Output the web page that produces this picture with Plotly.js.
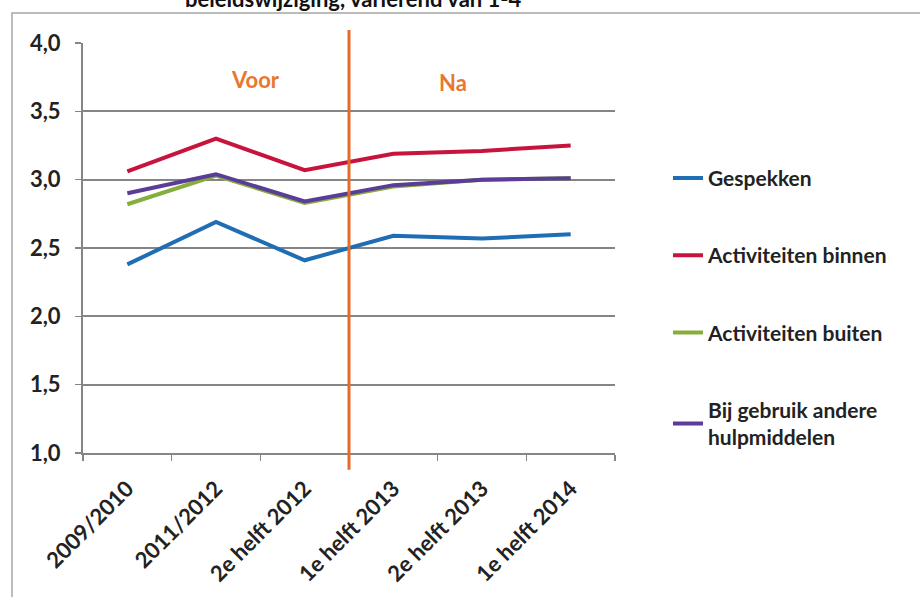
<!DOCTYPE html>
<html>
<head>
<meta charset="utf-8">
<script src="https://cdn.plot.ly/plotly-3.0.1.min.js"></script>
<style>
  html, body { margin: 0; padding: 0; background: #ffffff; }
  #chart { width: 920px; height: 597px; }
</style>
</head>
<body>
<div id="chart"></div>
<script>
// ---- data ----
const categories = ["2009/2010", "2011/2012", "2e helft 2012", "1e helft 2013", "2e helft 2013", "1e helft 2014"];
const gespekken = [2.38, 2.69, 2.41, 2.59, 2.57, 2.60];
const activiteitenBinnen = [3.06, 3.30, 3.07, 3.19, 3.21, 3.25];
const activiteitenBuiten = [2.82, 3.03, 2.83, 2.95, 3.00, 3.01];
const andereHulpmiddelen = [2.90, 3.04, 2.84, 2.96, 3.00, 3.01];
const seriesNames = ["Gespekken", "Activiteiten binnen", "Activiteiten buiten", "Bij gebruik andere<br>hulpmiddelen"];
const yTicks = [1.0, 1.5, 2.0, 2.5, 3.0, 3.5, 4.0];
const titleText = "beleidswijziging, variërend van 1-4";
const periodLabels = ["Voor", "Na"];

const FONT = "Lato, 'Open Sans', sans-serif";
const colors = ["#1F6DB3", "#C8143C", "#86AE3C", "#5B3C96"];
const seriesValues = [gespekken, activiteitenBinnen, activiteitenBuiten, andereHulpmiddelen];

const traces = seriesValues.map((vals, i) => ({
  type: "scatter",
  mode: "lines",
  x: categories,
  y: vals,
  name: seriesNames[i],
  legendgroup: "g" + i,
  line: { color: colors[i], width: 4 },
  hoverinfo: "skip"
}));

const layout = {
  width: 920,
  height: 597,
  margin: { l: 83, r: 305, t: 43, b: 144 },
  paper_bgcolor: "#ffffff",
  plot_bgcolor: "#ffffff",
  separators: ",.",
  font: { family: FONT, color: "#222222" },
  xaxis: {
    type: "category",
    range: [-0.5, 5.5],
    tickson: "boundaries",
    ticks: "outside",
    ticklen: 6,
    tickwidth: 1.5,
    tickcolor: "#858585",
    showgrid: false,
    showline: true,
    linecolor: "#858585",
    linewidth: 2,
    tickangle: -45,
    ticklabelstandoff: 12,
    tickfont: { family: FONT, size: 22, weight: "bold", color: "#222222" },
    fixedrange: true
  },
  yaxis: {
    range: [1, 4],
    tickvals: yTicks,
    tickformat: ".1f",
    ticks: "outside",
    ticklen: 6,
    tickwidth: 1.5,
    tickcolor: "#858585",
    showgrid: true,
    gridcolor: "#858585",
    gridwidth: 2,
    showline: true,
    linecolor: "#858585",
    linewidth: 2,
    zeroline: false,
    ticklabelstandoff: 10,
    tickfont: { family: FONT, size: 22, weight: "bold", color: "#222222" },
    fixedrange: true
  },
  showlegend: true,
  legend: {
    x: 1.0996,
    xanchor: "left",
    y: 0.72,
    yanchor: "top",
    traceorder: "grouped",
    tracegroupgap: 47,
    font: { family: FONT, size: 21, weight: "bold", color: "#222222" },
    bgcolor: "rgba(0,0,0,0)",
    borderwidth: 0
  },
  shapes: [
    {
      type: "rect", xref: "paper", yref: "paper",
      x0: -0.1335, x1: 1.6, y0: -0.4, y1: 1.073,
      line: { color: "#A6A6A6", width: 1.5 },
      fillcolor: "rgba(0,0,0,0)",
      layer: "below"
    },
    {
      type: "line", xref: "x", yref: "paper",
      x0: 2.5, x1: 2.5, y0: -0.041, y1: 1.032,
      line: { color: "#E46C2A", width: 3 },
      layer: "above"
    }
  ],
  annotations: [
    {
      text: titleText, xref: "paper", yref: "paper",
      x: 0.509, y: 1.0707, xanchor: "center", yanchor: "bottom",
      showarrow: false,
      font: { family: FONT, size: 22, weight: "bold", color: "#111111" }
    },
    {
      text: periodLabels[0], xref: "x", yref: "y",
      x: 1.45, y: 3.73, showarrow: false,
      font: { family: FONT, size: 22, weight: "bold", color: "#E8782F" }
    },
    {
      text: periodLabels[1], xref: "x", yref: "y",
      x: 3.67, y: 3.71, showarrow: false,
      font: { family: FONT, size: 22, weight: "bold", color: "#E8782F" }
    }
  ]
};

Plotly.newPlot("chart", traces, layout, { displayModeBar: false, staticPlot: true });
</script>
</body>
</html>
